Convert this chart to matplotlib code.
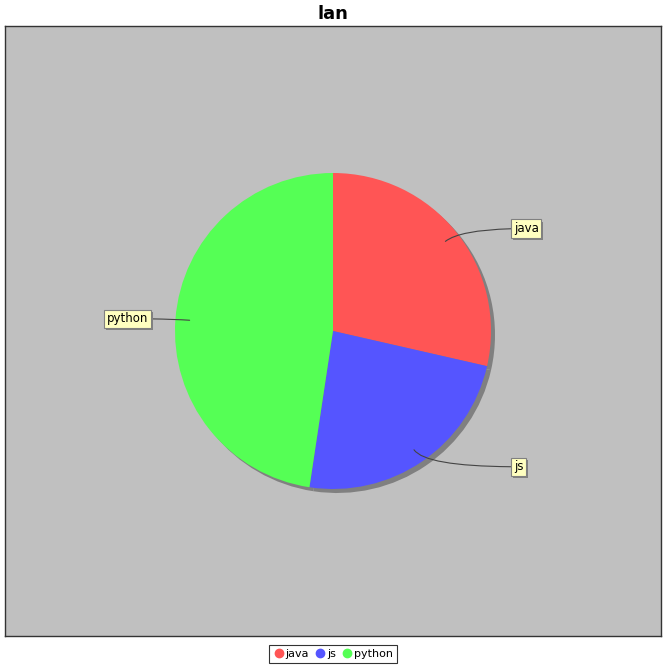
import numpy as np
import matplotlib.pyplot as plt
from matplotlib.lines import Line2D
import matplotlib.patheffects as pe

# dane
kategorie = ['java', 'js', 'python']
wartosci = [30, 25, 50]
kolory = ['#FF5555', '#5555FF', '#55FF55']

fig = plt.figure(figsize=(6.66, 6.66), dpi=100)
fig.patch.set_facecolor('white')

# obszar wykresu w pikselach
ax = fig.add_axes([5 / 666, 30 / 666, 656 / 666, 610 / 666])
ax.set_facecolor('#C0C0C0')
ax.set_xticks([])
ax.set_yticks([])
for sp in ax.spines.values():
    sp.set_color('#333333')
    sp.set_linewidth(1)

cx, cy, R = 328, 305, 158

# cien
ax.pie(wartosci, colors=['#808080'] * 3, startangle=90, counterclock=False,
       center=(cx + 4, cy - 4), radius=R, frame=True,
       wedgeprops=dict(linewidth=0))
# kolo
wedges, _ = ax.pie(wartosci, colors=kolory, startangle=90, counterclock=False,
                   center=(cx, cy), radius=R, frame=True,
                   wedgeprops=dict(linewidth=0))
ax.set_xlim(0, 656)
ax.set_ylim(0, 610)
ax.set_aspect('auto')

# etykiety
for w, nazwa in zip(wedges, kategorie):
    kat = np.deg2rad((w.theta1 + w.theta2) / 2)
    px = cx + 0.91 * R * np.cos(kat)
    py = cy + 0.91 * R * np.sin(kat)
    strona = 1 if np.cos(kat) >= 0 else -1
    lx = cx + strona * (1.145 if strona > 0 else 1.17) * R
    ly = cy + 1.04 * R * np.sin(kat)
    t = ax.annotate(nazwa, xy=(px, py), xytext=(lx, ly),
                    ha='left' if strona > 0 else 'right', va='center',
                    fontsize=8.5, color='black',
                    bbox=dict(boxstyle='square,pad=0.22', fc='#FFFFC0', ec='#808080', lw=0.8),
                    arrowprops=dict(arrowstyle='-', color='#444444', lw=0.8,
                                    shrinkA=0, shrinkB=0,
                                    connectionstyle='angle3,angleA=0,angleB=%d' % np.rad2deg(kat)))
    t.get_bbox_patch().set_path_effects([
        pe.SimplePatchShadow(offset=(1.5, -1.5), shadow_rgbFace='#808080', alpha=1.0),
        pe.Normal()])

fig.text(0.5, 1 - 14 / 666, 'lan', ha='center', va='center',
         fontsize=13, fontweight='bold')

uchwyty = [Line2D([], [], marker='o', linestyle='', markersize=6,
                  markerfacecolor=k, markeredgecolor=k) for k in kolory]
leg = fig.legend(uchwyty, kategorie, loc='center', bbox_to_anchor=(0.5, 1 - 654 / 666),
                 ncol=3, fontsize=8, frameon=True, fancybox=False,
                 handletextpad=0.1, columnspacing=0.5, borderpad=0.4,
                 handlelength=1.0, borderaxespad=0)
leg.get_frame().set_edgecolor('black')
leg.get_frame().set_linewidth(0.8)

fig.savefig('out.png', dpi=100)
